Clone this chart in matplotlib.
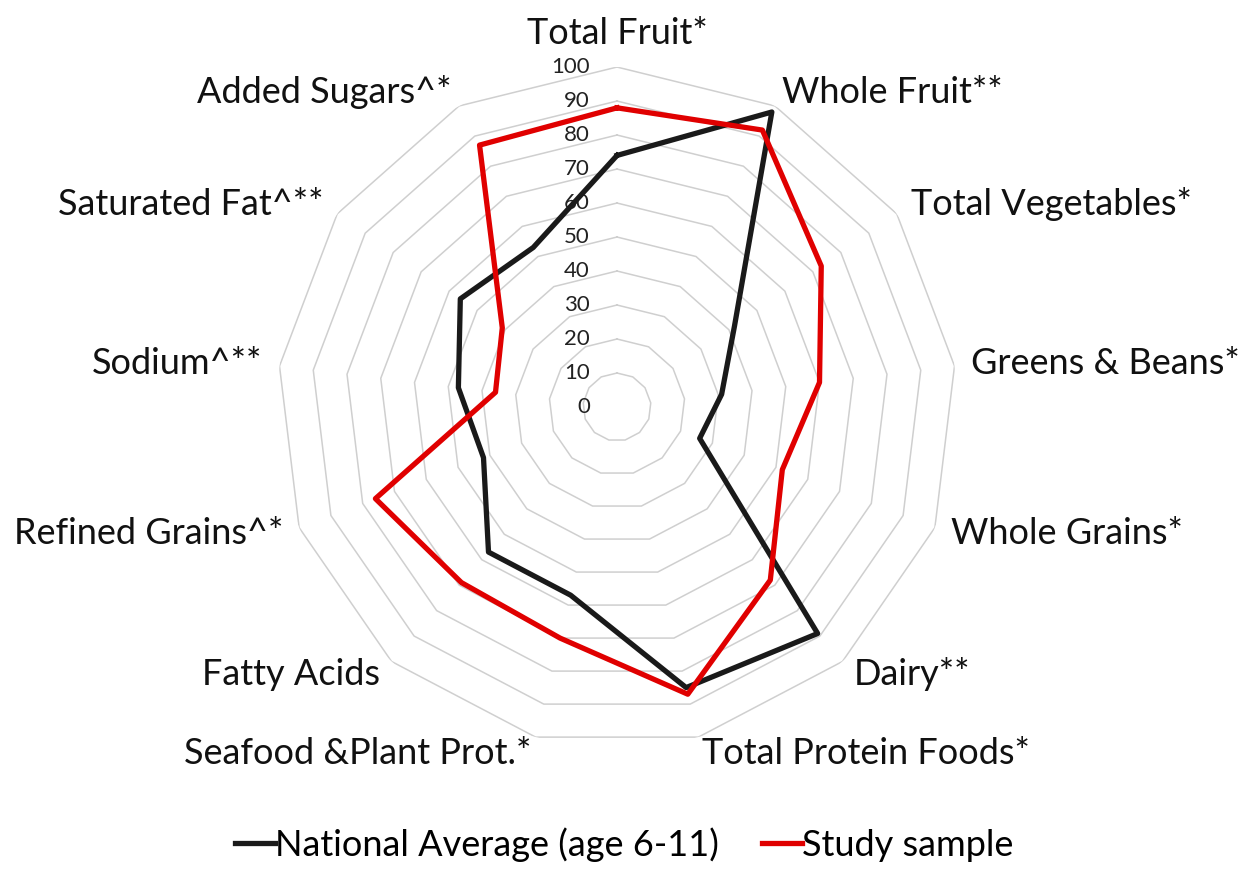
import matplotlib.pyplot as plt
import numpy as np

plt.rcParams['font.family'] = ['Lato', 'DejaVu Sans']

# Componentes del índice (en sentido horario desde arriba)
categorias = ['Total Fruit*', 'Whole Fruit**', 'Total Vegetables*', 'Greens & Beans*',
              'Whole Grains*', 'Dairy**', 'Total Protein Foods*', 'Seafood &Plant Prot.*',
              'Fatty Acids', 'Refined Grains^*', 'Sodium^**', 'Saturated Fat^**',
              'Added Sugars^*']
nacional = [74, 98, 42, 31, 26, 89, 85, 57, 57, 42, 47, 56, 53]
muestra = [88, 92, 73, 60, 52, 68, 87, 70, 69, 76, 36, 41, 87]
ticks = list(range(0, 101, 10))

n = len(categorias)
ang = 2 * np.pi * np.arange(n) / n
ang_c = np.append(ang, ang[0])

fig = plt.figure(figsize=(12.49, 8.77), dpi=100)
ax = fig.add_axes([0.2218, 0.1482, 0.5444, 0.7754], projection='polar')
ax.set_theta_offset(np.pi / 2)
ax.set_theta_direction(-1)
ax.set_ylim(0, 100)
ax.grid(False)
ax.set_xticks([])
ax.set_yticks([])
ax.spines['polar'].set_visible(False)
ax.patch.set_visible(False)

# Rejilla poligonal
for v in ticks[1:]:
    ax.plot(ang_c, [v] * (n + 1), color='#cfcfcf', lw=1.1, zorder=1)

# Etiquetas del eje radial
for v in ticks:
    ax.annotate(str(v), (0, v), xytext=(-27, 0), textcoords='offset pixels',
                ha='right', va='center', fontsize=16, color='#222222', zorder=2)

# Series
ax.plot(ang_c, nacional + nacional[:1], color='#1a1a1a', lw=3.8, zorder=3,
        label='National Average (age 6-11)')
ax.plot(ang_c, muestra + muestra[:1], color='#e00000', lw=3.8, zorder=4,
        label='Study sample')

# Etiquetas de categorías
for a, lab in zip(ang, categorias):
    dx, dy = np.sin(a), np.cos(a)
    ha = 'left' if dx > 0.1 else ('right' if dx < -0.1 else 'center')
    va = 'bottom' if dy > 0.95 else 'center'
    r = 105
    if 0.8 < abs(dy) < 0.95:
        r = 104.5
    ax.text(a, r, lab, ha=ha, va=va, fontsize=26, color='#111111')

fig.legend(loc='center', bbox_to_anchor=(0.5, 0.037), ncol=2, frameon=False,
           fontsize=26, handlelength=1.1, handletextpad=0.0, columnspacing=1.2)

plt.savefig('out.png', dpi=100)
